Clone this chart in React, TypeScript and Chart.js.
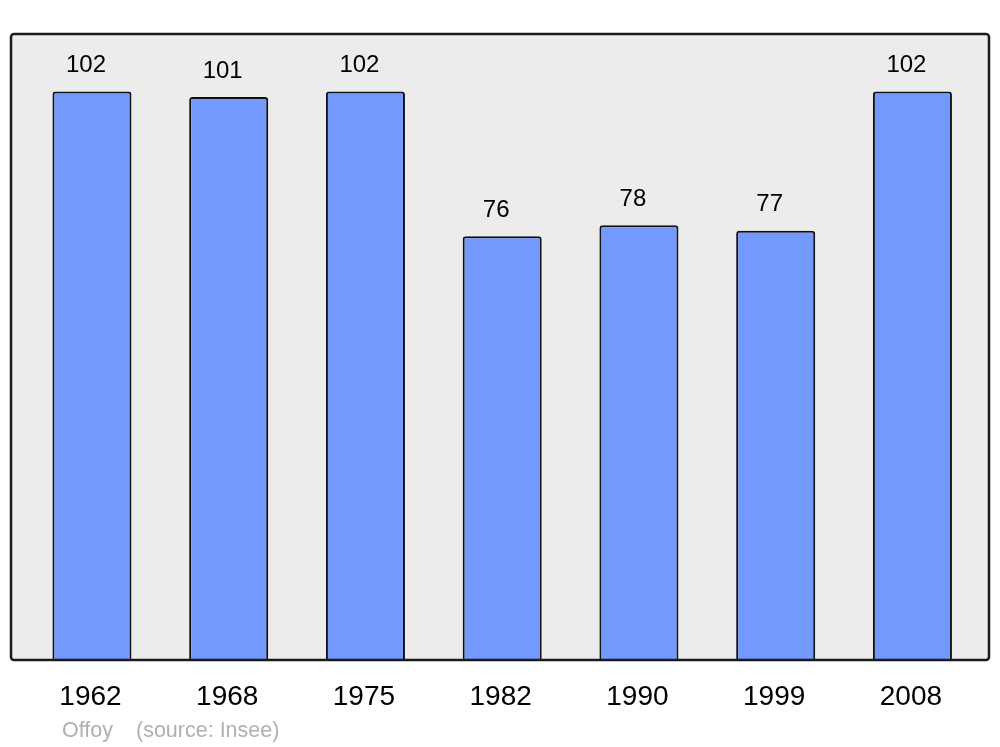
import React, { useEffect, useRef } from "react";
import { Chart, registerables } from "chart.js";

Chart.register(...registerables);

const years = ["1962", "1968", "1975", "1982", "1990", "1999", "2008"];
const population = [102, 101, 102, 76, 78, 77, 102];
const sourceName = "Offoy";
const sourceNote = "(source: Insee)";

const FONT = "'Liberation Sans', Arial, sans-serif";

const framePlugin = {
  id: "frame",
  beforeDraw(chart: any) {
    const { ctx, chartArea } = chart;
    const { left, top, right, bottom } = chartArea;
    ctx.save();
    ctx.beginPath();
    ctx.roundRect(left, top, right - left, bottom - top, 3);
    ctx.fillStyle = "#ececec";
    ctx.fill();
    ctx.restore();
  },
  afterDatasetsDraw(chart: any) {
    const { ctx, chartArea } = chart;
    const { left, top, right, bottom } = chartArea;
    ctx.save();
    ctx.beginPath();
    ctx.roundRect(left, top, right - left, bottom - top, 3);
    ctx.lineWidth = 2.5;
    ctx.strokeStyle = "#1a1a1a";
    ctx.stroke();
    // value labels
    const meta = chart.getDatasetMeta(0);
    ctx.fillStyle = "#000";
    ctx.font = `24px ${FONT}`;
    ctx.textAlign = "center";
    ctx.textBaseline = "middle";
    meta.data.forEach((bar: any, i: number) => {
      ctx.fillText(String(population[i]), bar.x - 6, bar.y - 26);
    });
    // source
    ctx.fillStyle = "#b0b0b0";
    ctx.font = `21.5px ${FONT}`;
    ctx.textAlign = "left";
    ctx.fillText(sourceName, 62, 731);
    ctx.fillText(sourceNote, 136, 731);
    ctx.restore();
  },
};

export default function App() {
  const ref = useRef<HTMLCanvasElement>(null);
  useEffect(() => {
    if (!ref.current) return;
    const chart = new Chart(ref.current, {
      type: "bar",
      data: {
        datasets: [
          {
            data: population.map((v, i) => ({ x: i, y: v })),
            backgroundColor: "#7399ff",
            borderColor: "#111",
            borderWidth: 2,
            borderSkipped: "bottom",
            borderRadius: { topLeft: 3, topRight: 3, bottomLeft: 0, bottomRight: 0 },
            categoryPercentage: 1,
            barPercentage: 0.578,
          },
        ],
      },
      plugins: [framePlugin],
      options: {
        responsive: false,
        animation: false,
        devicePixelRatio: 1,
        layout: { padding: { left: 11, right: 11, top: 34, bottom: 0 } },
        plugins: { legend: { display: false }, tooltip: { enabled: false } },
        scales: {
          x: {
            type: "linear",
            offset: false,
            min: -0.592,
            max: 6.56,
            grid: { display: false, drawTicks: false },
            border: { display: false },
            afterBuildTicks: (scale: any) => {
              scale.ticks = years.map((_, i) => ({ value: i }));
            },
            afterFit: (scale: any) => {
              scale.height = 87;
            },
            ticks: {
              padding: 20,
              labelOffset: -1.5,
              color: "#000",
              font: { family: FONT, size: 28 },
              callback: (v: any) => years[v] ?? "",
            },
          },
          y: {
            display: false,
            min: 0,
            max: 112.3,
          },
        },
      },
    });
    return () => chart.destroy();
  }, []);
  return (
    <div style={{ position: "absolute", left: 0, top: 0, width: 1000, height: 747, background: "#fff" }}>
      <canvas ref={ref} width={1000} height={747} />
    </div>
  );
}
